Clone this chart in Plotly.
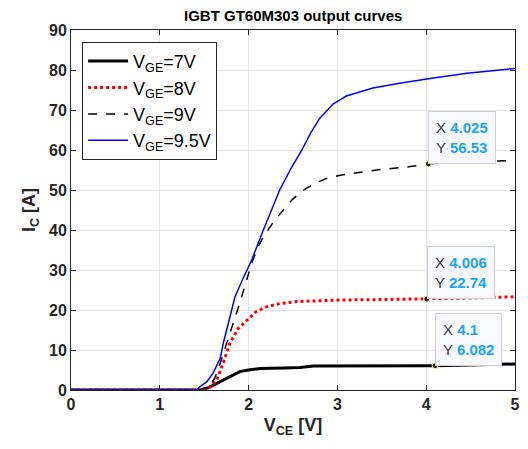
import plotly.graph_objects as go

# V_GE = 7 V
x7 = [0, 1.45, 1.55, 1.65, 1.715, 1.80, 1.90, 2.0, 2.13, 2.4, 2.58, 2.73, 3.2, 3.6, 4.1, 4.6, 5.0]
y7 = [0, 0, 0.6, 1.8, 2.5, 3.6, 4.6, 5.0, 5.4, 5.5, 5.6, 6.0, 6.0, 6.0, 6.082, 6.3, 6.5]
# V_GE = 8 V
x8 = [0, 1.50, 1.57, 1.64, 1.71, 1.79, 1.88, 1.98, 2.08, 2.20, 2.35, 2.54, 2.8, 3.03, 3.48, 4.006, 4.5, 5.0]
y8 = [0, 0, 0.8, 2.5, 6.5, 11.7, 15.3, 17.5, 19.5, 20.8, 21.6, 22.1, 22.3, 22.5, 22.6, 22.74, 23.0, 23.3]
# V_GE = 9 V
x9 = [0, 1.45, 1.55, 1.62, 1.68, 1.78, 1.90, 2.035, 2.10, 2.166, 2.28, 2.39, 2.50, 2.62, 2.75, 2.88, 3.03, 3.18, 3.44, 3.8, 4.025, 4.5, 5.0]
y9 = [0, 0, 0.8, 3.0, 6.7, 13.5, 21.7, 31.7, 35.5, 38.3, 42.0, 45.0, 47.8, 50.0, 51.7, 52.9, 53.7, 54.2, 55.0, 55.8, 56.53, 57.0, 57.4]
# V_GE = 9.5 V
x95 = [0, 1.415, 1.45, 1.53, 1.60, 1.68, 1.715, 1.78, 1.847, 1.94, 2.035, 2.166, 2.35, 2.48, 2.6, 2.70, 2.80, 2.95, 3.10, 3.4, 3.70, 4.08, 4.46, 5.0]
y95 = [0, 0, 0.8, 2.1, 4.2, 7.9, 11.7, 17.5, 23.3, 28.0, 32.5, 40.0, 50.0, 55.5, 60.0, 64.3, 67.9, 71.5, 73.5, 75.5, 76.7, 78.0, 79.2, 80.4]

# data tips
tip_x = [4.025, 4.006, 4.1]
tip_y = [56.53, 22.74, 6.082]
tip_xl = ["4.025", "4.006", "4.1"]
tip_yl = ["56.53", "22.74", "6.082"]

FONT = "Liberation Sans, Arial"

series = [
    (x7, y7, "V<sub>GE</sub>=7V", dict(color="black", width=3, dash="solid")),
    (x8, y8, "V<sub>GE</sub>=8V", dict(color="#ff0000", width=3, dash="dot")),
    (x9, y9, "V<sub>GE</sub>=9V", dict(color="black", width=1.5, dash="dash")),
    (x95, y95, "V<sub>GE</sub>=9.5V", dict(color="#0000ff", width=1.5, dash="solid")),
]

fig = go.Figure()
for xs, ys, name, line in series:
    fig.add_trace(go.Scatter(x=xs, y=ys, mode="lines", name=name, line=line))

fig.add_trace(go.Scatter(x=tip_x, y=tip_y, mode="markers", showlegend=False,
                         marker=dict(size=6, color="#262626", line=dict(color="#ffffc0", width=1))))

for tx, ty, lx, ly in zip(tip_x, tip_y, tip_xl, tip_yl):
    fig.add_annotation(
        x=tx, y=ty, xref="x", yref="y", xanchor="left", yanchor="bottom",
        showarrow=False, align="left",
        text=f"X <span style='color:#1aa3ff'><b>{lx}</b></span><br>Y <span style='color:#1aa3ff'><b>{ly}</b></span>",
        font=dict(family=FONT, size=15, color="#404040"),
        bgcolor="#f8f8ff", bordercolor="#d0d0d0", borderwidth=1, borderpad=7,
    )

axis_common = dict(
    showline=True, linecolor="#262626", linewidth=1, mirror="ticks",
    ticks="inside", ticklen=5, tickcolor="#262626", automargin=False,
    showgrid=True, gridcolor="#e3e3e3", gridwidth=1, zeroline=False,
    tickfont=dict(family=FONT, size=16, color="#262626", weight="bold"),
)

# page body has an 8px default margin; figure is sized so the whole page fits the window
fig.update_layout(
    width=512, height=433,
    margin=dict(l=63, r=5, t=22, b=51),
    paper_bgcolor="white", plot_bgcolor="white",
    title=dict(text="<b>IGBT GT60M303 output curves</b>", x=0.557, xanchor="center", y=0.983, yanchor="middle",
               font=dict(family=FONT, size=15, color="black")),
    xaxis=dict(range=[0, 5], dtick=1, **axis_common,
               title=dict(text="<b>V<sub>CE</sub> [V]</b>", standoff=6,
                          font=dict(family=FONT, size=18, color="#262626"))),
    yaxis=dict(range=[0, 90], dtick=10, **axis_common,
               title=dict(text="<b>I<sub>C</sub> [A]</b>", standoff=8,
                          font=dict(family=FONT, size=18, color="#262626"))),
    legend=dict(x=0.025, y=0.967, xanchor="left", yanchor="top",
                bgcolor="white", bordercolor="#262626", borderwidth=1,
                font=dict(family=FONT, size=18, color="black"),
                tracegroupgap=0, itemwidth=40),
    showlegend=True,
)

fig.write_html("out.html")
